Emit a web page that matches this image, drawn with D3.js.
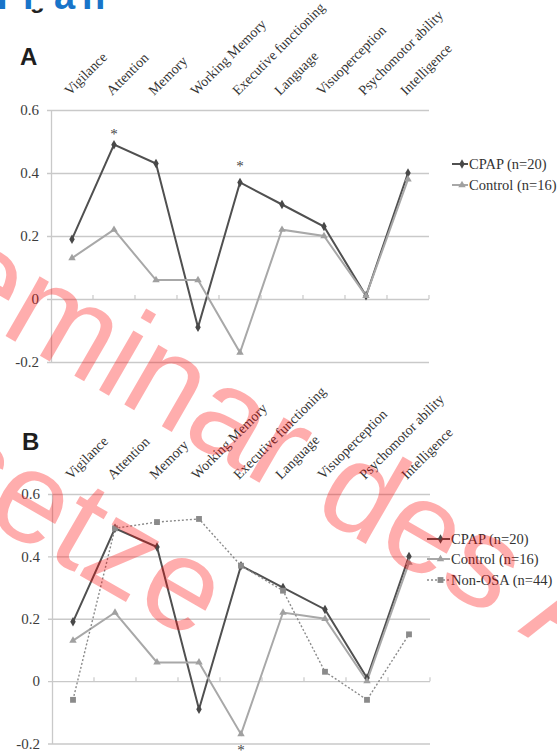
<!DOCTYPE html>
<html>
<head>
<meta charset="utf-8">
<script src="https://cdn.jsdelivr.net/npm/d3@7"></script>
<style>
  html, body { margin: 0; padding: 0; background: #fff; }
  svg { display: block; }
</style>
</head>
<body>
<svg id="chart" width="557" height="752"></svg>
<script>
// ---------------- data ----------------
const categories = ["Vigilance", "Attention", "Memory", "Working Memory", "Executive functioning",
                    "Language", "Visuoperception", "Psychomotor ability", "Intelligence"];
const yTicks = [0.6, 0.4, 0.2, 0, -0.2];
const yTickLabels = ["0.6", "0.4", "0.2", "0", "-0.2"];

const cpapA    = [0.19, 0.49, 0.43, -0.09, 0.37, 0.30, 0.23, 0.01, 0.40];
const controlA = [0.13, 0.22, 0.06, 0.06, -0.17, 0.22, 0.20, 0.01, 0.38];

const cpapB    = [0.19, 0.49, 0.43, -0.09, 0.37, 0.30, 0.23, 0.01, 0.40];
const controlB = [0.13, 0.22, 0.06, 0.06, -0.17, 0.22, 0.20, 0.00, 0.38];
const nonOsaB  = [-0.06, 0.49, 0.51, 0.52, 0.37, 0.29, 0.03, -0.06, 0.15];

const legendA = ["CPAP (n=20)", "Control (n=16)"];
const legendB = ["CPAP (n=20)", "Control (n=16)", "Non-OSA (n=44)"];

// asterisks: [category, value position]
const starsA = [["Attention", 0.53], ["Executive functioning", 0.43]];
const starsB = [["Executive functioning", -0.215]];

// ---------------- styles ----------------
const styles = {
  cpap:    { color: "#505050", width: 2,   dash: null,  symbol: d3.symbolDiamond, size: 26, fill: "#484848" },
  control: { color: "#a8a8a8", width: 2,   dash: null,  symbol: d3.symbolTriangle, size: 24, fill: "#a0a0a0" },
  nonosa:  { color: "#8a8a8a", width: 1.4, dash: "2,2", symbol: d3.symbolSquare, size: 34, fill: "#8a8a8a" }
};
const gridColor = "#c9c9c9";
const serif = "'Liberation Serif', 'Times New Roman', serif";
const sans  = "'Liberation Sans', Arial, sans-serif";

const svg = d3.select("#chart");
const defs = svg.append("defs");
defs.append("clipPath").attr("id", "hookClip")
  .append("rect").attr("x", 25).attr("y", 8.5).attr("width", 30).attr("height", 10);

// ---------------- header (clipped title) ----------------
const head = svg.append("text").attr("y", 9).attr("font-family", sans)
  .attr("font-weight", "bold").attr("font-size", 38).attr("fill", "#1874c9");
head.append("tspan").attr("x", -3).text("P");
head.append("tspan").attr("x", 23).text("l");
head.append("tspan").attr("x", 54).text("a");
head.append("tspan").attr("x", 82).text("n");
svg.append("text").attr("x", 30).attr("y", 8).attr("font-family", sans)
  .attr("font-weight", "bold").attr("font-size", 24).attr("fill", "#222")
  .attr("clip-path", "url(#hookClip)").text("g");

// ---------------- panel builder ----------------
function panel(cfg) {
  const g = svg.append("g");
  const x = d3.scaleBand().domain(categories).range([cfg.left, cfg.right]).paddingInner(0).paddingOuter(0);
  const y = d3.scaleLinear().domain([-0.2, 0.6]).range([cfg.bottom, cfg.top]);
  const cx = c => x(c) + x.bandwidth() / 2;

  // gridlines with left tick stub
  const yAxis = d3.axisLeft(y).tickValues(yTicks).tickSize(-(cfg.right - cfg.left)).tickSizeOuter(0)
    .tickFormat((d, i) => yTickLabels[i]);
  const ag = g.append("g").attr("transform", `translate(${cfg.left},0)`).call(yAxis);
  ag.select(".domain").attr("stroke", gridColor).attr("stroke-width", 1.3);
  ag.selectAll(".tick line").attr("stroke", gridColor).attr("stroke-width", 1.3).attr("x1", -4);
  ag.selectAll(".tick text").attr("x", -12).attr("dy", "0.32em")
    .attr("font-family", serif).attr("font-size", 15).attr("fill", "#3c3c3c");

  // x axis at zero with small ticks at category boundaries
  const xAxis = d3.axisBottom(x).tickSize(0).tickFormat("");
  const xg = g.append("g").attr("transform", `translate(0,${y(0)})`).call(xAxis);
  xg.select(".domain").remove();
  const bounds = categories.map(c => x(c) + x.bandwidth());
  xg.selectAll(".bt").data(bounds).join("line").attr("class", "bt")
    .attr("x1", d => d).attr("x2", d => d).attr("y1", 0).attr("y2", -4)
    .attr("stroke", gridColor).attr("stroke-width", 1.2);

  // category labels rotated
  g.selectAll(".cat").data(categories).join("text").attr("class", "cat")
    .attr("transform", d => `translate(${cx(d) - 2},${cfg.top - 14}) rotate(-45)`)
    .attr("font-family", serif).attr("font-size", 14).attr("fill", "#333")
    .text(d => d);

  // panel letter
  g.append("text").attr("x", cfg.letterX).attr("y", cfg.letterY)
    .attr("font-family", sans).attr("font-weight", "bold").attr("font-size", 24)
    .attr("fill", "#1e1e1e").text(cfg.letter);

  // series lines
  const line = d3.line().x((d, i) => cx(categories[i])).y(d => y(d));
  cfg.series.forEach(s => {
    const st = styles[s.key];
    g.append("path").datum(s.values).attr("d", line).attr("fill", "none")
      .attr("stroke", st.color).attr("stroke-width", st.width)
      .attr("stroke-dasharray", st.dash).attr("stroke-linejoin", "miter");
  });
  cfg.series.forEach(s => {
    const st = styles[s.key];
    g.selectAll(null).data(s.values).join("path")
      .attr("transform", (d, i) => `translate(${cx(categories[i])},${y(d)})`)
      .attr("d", d3.symbol().type(st.symbol).size(st.size))
      .attr("fill", st.fill);
  });

  // asterisks
  g.selectAll(".star").data(cfg.stars).join("text").attr("class", "star")
    .attr("x", d => cx(d[0])).attr("y", d => y(d[1]) + 7)
    .attr("text-anchor", "middle").attr("font-family", serif).attr("font-size", 15)
    .attr("fill", "#444").text("*");

  // legend
  const lg = g.append("g");
  cfg.series.forEach((s, i) => {
    const st = styles[s.key];
    const ly = cfg.legendY[i];
    lg.append("line").attr("x1", cfg.legendX0).attr("x2", cfg.legendX1).attr("y1", ly).attr("y2", ly)
      .attr("stroke", st.color).attr("stroke-width", st.width).attr("stroke-dasharray", st.dash);
    lg.append("path").attr("transform", `translate(${(cfg.legendX0 + cfg.legendX1) / 2 + 2},${ly})`)
      .attr("d", d3.symbol().type(st.symbol).size(st.size)).attr("fill", st.fill);
    lg.append("text").attr("x", cfg.legendX1 + 1).attr("y", ly + 5)
      .attr("font-family", serif).attr("font-size", 14.5).attr("fill", "#333").text(s.label);
  });
}

panel({
  left: 51, right: 429, top: 110, bottom: 362,
  letter: "A", letterX: 20, letterY: 65,
  series: [{ key: "cpap", values: cpapA, label: legendA[0] },
           { key: "control", values: controlA, label: legendA[1] }],
  stars: starsA,
  legendX0: 452, legendX1: 468, legendY: [164, 185]
});

panel({
  left: 52, right: 430, top: 494, bottom: 743.5,
  letter: "B", letterX: 22, letterY: 450,
  series: [{ key: "cpap", values: cpapB, label: legendB[0] },
           { key: "control", values: controlB, label: legendB[1] },
           { key: "nonosa", values: nonOsaB, label: legendB[2] }],
  stars: starsB,
  legendX0: 427, legendX1: 450, legendY: [539, 559, 580]
});

// ---------------- watermark ----------------
const wm = svg.append("g").attr("transform", "translate(-140,252) rotate(30)")
  .attr("font-family", sans).attr("font-size", 130).attr("fill", "#ff0000").attr("fill-opacity", 0.32);
wm.append("text").attr("x", 0).attr("y", 0).text("Seminar des Arbeitskreises");
wm.append("text").attr("x", 0).attr("y", 170).text("Gesetze");
</script>
</body>
</html>
